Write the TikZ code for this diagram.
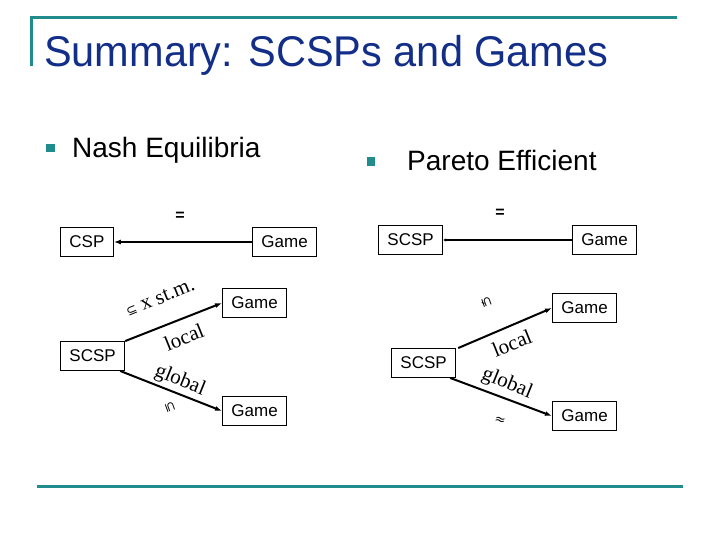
\documentclass[tikz,border=0pt]{standalone}
\usepackage{fontspec}
\setmainfont{Liberation Sans}
\newfontfamily\timesfont{Liberation Serif}
\newfontfamily\symbfont{DejaVu Sans}
\usetikzlibrary{arrows.meta,positioning}
\definecolor{slideteal}{RGB}{32,140,140}
\definecolor{titleblue}{RGB}{18,46,136}

\begin{document}
\begin{tikzpicture}[
  x=1pt, y=-1pt,
  box/.style={draw, rectangle, line width=0.9pt, inner xsep=9pt, minimum height=29pt, font=\fontsize{17}{20}\selectfont},
  arrow/.style={-{Latex[length=7pt,width=5pt]}, line width=2pt},
  rellabel/.style={font=\timesfont\fontsize{21}{24}\selectfont, inner sep=0pt},
  relsym/.style={font=\symbfont\fontsize{13}{15}\selectfont, inner sep=0pt},
  eqsign/.style={font=\bfseries\fontsize{16}{18}\selectfont, inner sep=0pt},
  sqbullet/.style={fill=slideteal, minimum size=8.5pt, inner sep=0pt},
  bullettext/.style={anchor=base west, inner sep=0pt, font=\fontsize{28}{32}\selectfont}
]
  \useasboundingbox (0,0) rectangle (720,540);
  % frame and title
  \draw[slideteal, line width=3pt] (31,66) -- (31,18) -- (677,18);
  \draw[slideteal, line width=3pt] (37,486) -- (683,486);
  \node[anchor=base west, inner sep=0pt, text=titleblue, xscale=0.965, font=\fontsize{43}{48}\selectfont] (title) at (44,67) {Summary: SCSPs and Games};

  % bullets
  \node[sqbullet] (bulA) at (50.5,148) {};
  \node[bullettext] (nash) at (72,158) {Nash Equilibria};
  \node[sqbullet] (bulB) at (371,161.5) {};
  \node[bullettext] (pareto) at (407,171) {Pareto Efficient};

  % Nash side
  \node[eqsign] (eqA) at (180,216) {=};
  \node[box, anchor=west] (csp) at (60,242) {CSP};
  \node[box, anchor=west] (gameA) at (252,242) {Game};
  \draw[arrow] (gameA) -- (csp);

  \node[box, anchor=west] (scspA) at (60,356) {SCSP};
  \node[box, anchor=west] (gameC) at (222,303) {Game};
  \node[box, anchor=west] (gameD) at (222,411) {Game};
  \draw[arrow] (scspA.north east) -- (gameC.west);
  \draw[arrow] ([xshift=-5pt]scspA.south east) -- (gameD.west);
  \node[rellabel, rotate=22] (stm) at (160,298) {{\symbfont\fontsize{13}{15}\selectfont ⊆} x st.m.};
  \node[rellabel, rotate=22] (localA) at (184,337) {local};
  \node[rellabel, rotate=-22] (globalA) at (180,381) {global};
  \node[relsym, rotate=-70] (subA) at (170,407) {⊆};

  % Pareto side
  \node[eqsign] (eqB) at (500,213) {=};
  \node[box, anchor=west] (scspB) at (378,240) {SCSP};
  \node[box, anchor=west] (gameB) at (572,240) {Game};
  \draw[-{Latex[length=3pt,width=3.5pt]}, line width=2pt] (gameB) -- (scspB);

  \node[box, anchor=west] (scspC) at (391,363) {SCSP};
  \node[box, anchor=west] (gameE) at (552,308) {Game};
  \node[box, anchor=west] (gameF) at (552,416) {Game};
  \draw[arrow] ([xshift=2pt]scspC.north east) -- (gameE.west);
  \draw[arrow] ([xshift=-6pt]scspC.south east) -- (gameF.west);
  \node[relsym, rotate=-70] (subB) at (486,302) {⊊};
  \node[rellabel, rotate=22] (localB) at (512,343) {local};
  \node[rellabel, rotate=-22] (globalB) at (507,384) {global};
  \node[relsym, rotate=-15] (approxB) at (500,421) {≈};
\end{tikzpicture}
\end{document}
